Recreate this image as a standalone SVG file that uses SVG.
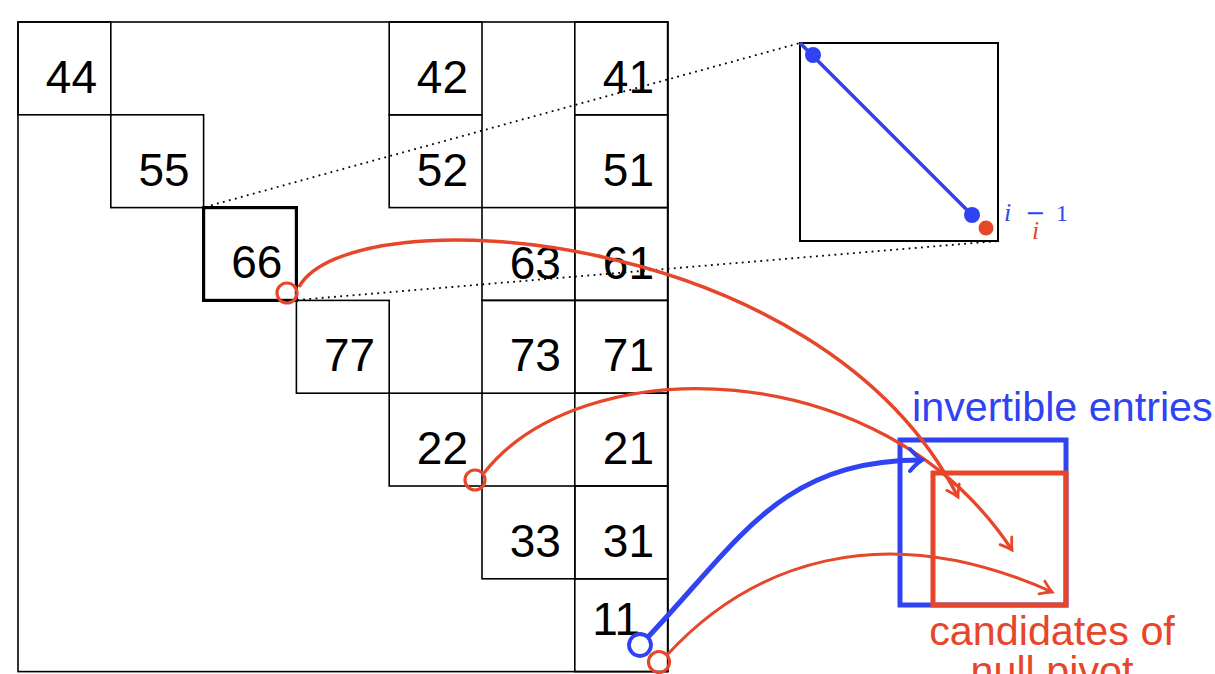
<svg xmlns="http://www.w3.org/2000/svg" width="1215" height="674" viewBox="0 0 1215 674">
<style>
.cell{fill:none;stroke:#000;stroke-width:1.6}
.thick{fill:none;stroke:#000;stroke-width:3.2}
.num{font-family:"Liberation Sans",Arial,sans-serif;font-size:46px;fill:#000;text-anchor:end}
.dot{fill:none;stroke:#000;stroke-width:1.8;stroke-dasharray:1.8 4.4}
.red{stroke:#E6462A;fill:none}
.blue{stroke:#2F43F2;fill:none}
.lbl{font-family:"Liberation Sans",Arial,sans-serif;font-size:41.3px}
.math{font-family:"Liberation Serif","Times New Roman",serif;font-style:italic;font-size:26px}
</style>
<defs>
<marker id="ar" markerUnits="userSpaceOnUse" markerWidth="30" markerHeight="30" refX="0" refY="0" viewBox="-15 -15 30 30" orient="auto" overflow="visible">
<path d="M-11,-7 Q-4,-2 0,0 Q-4,2 -11,7" fill="none" stroke="#E6462A" stroke-width="2.8" stroke-linecap="round"/>
</marker>
<marker id="ab" markerUnits="userSpaceOnUse" markerWidth="30" markerHeight="30" refX="0" refY="0" viewBox="-15 -15 30 30" orient="auto" overflow="visible">
<path d="M-12,-11 Q-5,-3 0,0 Q-5,3 -12,11" fill="none" stroke="#2F43F2" stroke-width="4" stroke-linecap="round"/>
</marker>
</defs>
<rect width="1215" height="674" fill="#fff"/>
<g id="matrix">
<rect class="cell" x="18" y="22" width="650" height="649.6"/>
</g>
<g id="c44"><rect class="cell" x="18" y="22" width="92.8" height="92.8"/><text class="num" x="97" y="93">44</text></g>
<g id="c55"><rect class="cell" x="110.8" y="114.8" width="92.8" height="92.8"/><text class="num" x="189.6" y="186">55</text></g>
<g id="c66"><rect class="thick" x="203.6" y="207.6" width="92.8" height="92.8"/><text class="num" x="282.4" y="278">66</text></g>
<g id="c77"><rect class="cell" x="296.4" y="300.4" width="92.8" height="92.8"/><text class="num" x="375.2" y="371">77</text></g>
<g id="c22"><rect class="cell" x="389.2" y="393.2" width="92.8" height="92.8"/><text class="num" x="468" y="464">22</text></g>
<g id="c33"><rect class="cell" x="482" y="486" width="92.8" height="92.8"/><text class="num" x="560.8" y="557">33</text></g>
<g id="c11"><rect class="cell" x="574.8" y="578.8" width="92.8" height="92.8"/><text class="num" x="640" y="635">11</text></g>
<g id="c42"><rect class="cell" x="389.2" y="22" width="92.8" height="92.8"/><text class="num" x="468" y="93">42</text></g>
<g id="c52"><rect class="cell" x="389.2" y="114.8" width="92.8" height="92.8"/><text class="num" x="468" y="186">52</text></g>
<g id="c63"><rect class="cell" x="482" y="207.6" width="92.8" height="92.8"/><text class="num" x="560.8" y="279">63</text></g>
<g id="c73"><rect class="cell" x="482" y="300.4" width="92.8" height="92.8"/><text class="num" x="560.8" y="371">73</text></g>
<g id="c41"><rect class="cell" x="574.8" y="22" width="92.8" height="92.8"/><text class="num" x="654" y="93">41</text></g>
<g id="c51"><rect class="cell" x="574.8" y="114.8" width="92.8" height="92.8"/><text class="num" x="654" y="186">51</text></g>
<g id="c61"><rect class="cell" x="574.8" y="207.6" width="92.8" height="92.8"/><text class="num" x="654" y="279">61</text></g>
<g id="c71"><rect class="cell" x="574.8" y="300.4" width="92.8" height="92.8"/><text class="num" x="654" y="371">71</text></g>
<g id="c21"><rect class="cell" x="574.8" y="393.2" width="92.8" height="92.8"/><text class="num" x="654" y="464">21</text></g>
<g id="c31"><rect class="cell" x="574.8" y="486" width="92.8" height="92.8"/><text class="num" x="654" y="557">31</text></g>
<g id="inset">
<rect x="800" y="43" width="198" height="198" fill="none" stroke="#000" stroke-width="2"/>
<line x1="800" y1="43" x2="972" y2="215" stroke="#2F43F2" stroke-width="3.5"/>
<circle cx="813" cy="55" r="8" fill="#2F43F2"/>
<circle cx="972" cy="215" r="8" fill="#2F43F2"/>
<circle cx="986" cy="228" r="7.5" fill="#E6462A"/>
<text class="math" fill="#2F43F2" x="1004" y="221">i</text>
<text fill="#2F43F2" x="1025" y="221" font-family="DejaVu Sans,sans-serif" font-size="24">−</text>
<text fill="#2F43F2" x="1056" y="221" font-family="Liberation Serif,serif" font-size="24">1</text>
<text class="math" fill="#E6462A" x="1032" y="239">i</text>
</g>
<g id="invertible">
<rect x="900" y="440" width="166" height="165" fill="none" stroke="#2F43F2" stroke-width="5"/>
<text class="lbl" fill="#2F43F2" x="912" y="421">invertible entries</text>
</g>
<g id="candidates">
<rect x="933" y="473" width="133" height="132" fill="none" stroke="#E6462A" stroke-width="5"/>
<text class="lbl" fill="#E6462A" text-anchor="middle" x="1052" y="645">candidates of</text>
<text class="lbl" fill="#E6462A" text-anchor="middle" x="1052" y="685">null pivot</text>
</g>
<g id="connectors">
<line class="dot" x1="205" y1="207" x2="800" y2="43"/>
<line class="dot" x1="297" y1="300" x2="998" y2="241"/>
<path class="red" stroke-width="3.5" d="M299,287 C350,195 820,225 958,497" marker-end="url(#ar)"/>
<path class="red" stroke-width="3.3" d="M484,473 C580,350 880,350 1012,550" marker-end="url(#ar)"/>
<path class="red" stroke-width="3" d="M667,655 C750,565 880,515 1052,592" marker-end="url(#ar)"/>
<path class="blue" stroke-width="5" d="M648,637 C740,540 780,460 922,460" marker-end="url(#ab)"/>
<circle cx="287" cy="293" r="10" fill="none" stroke="#E6462A" stroke-width="3.2"/>
<circle cx="475" cy="480" r="10" fill="none" stroke="#E6462A" stroke-width="3.2"/>
<circle cx="640" cy="645" r="11" fill="none" stroke="#2F43F2" stroke-width="3.8"/>
<circle cx="659" cy="662" r="10.5" fill="none" stroke="#E6462A" stroke-width="3.2"/>
</g>
</svg>
